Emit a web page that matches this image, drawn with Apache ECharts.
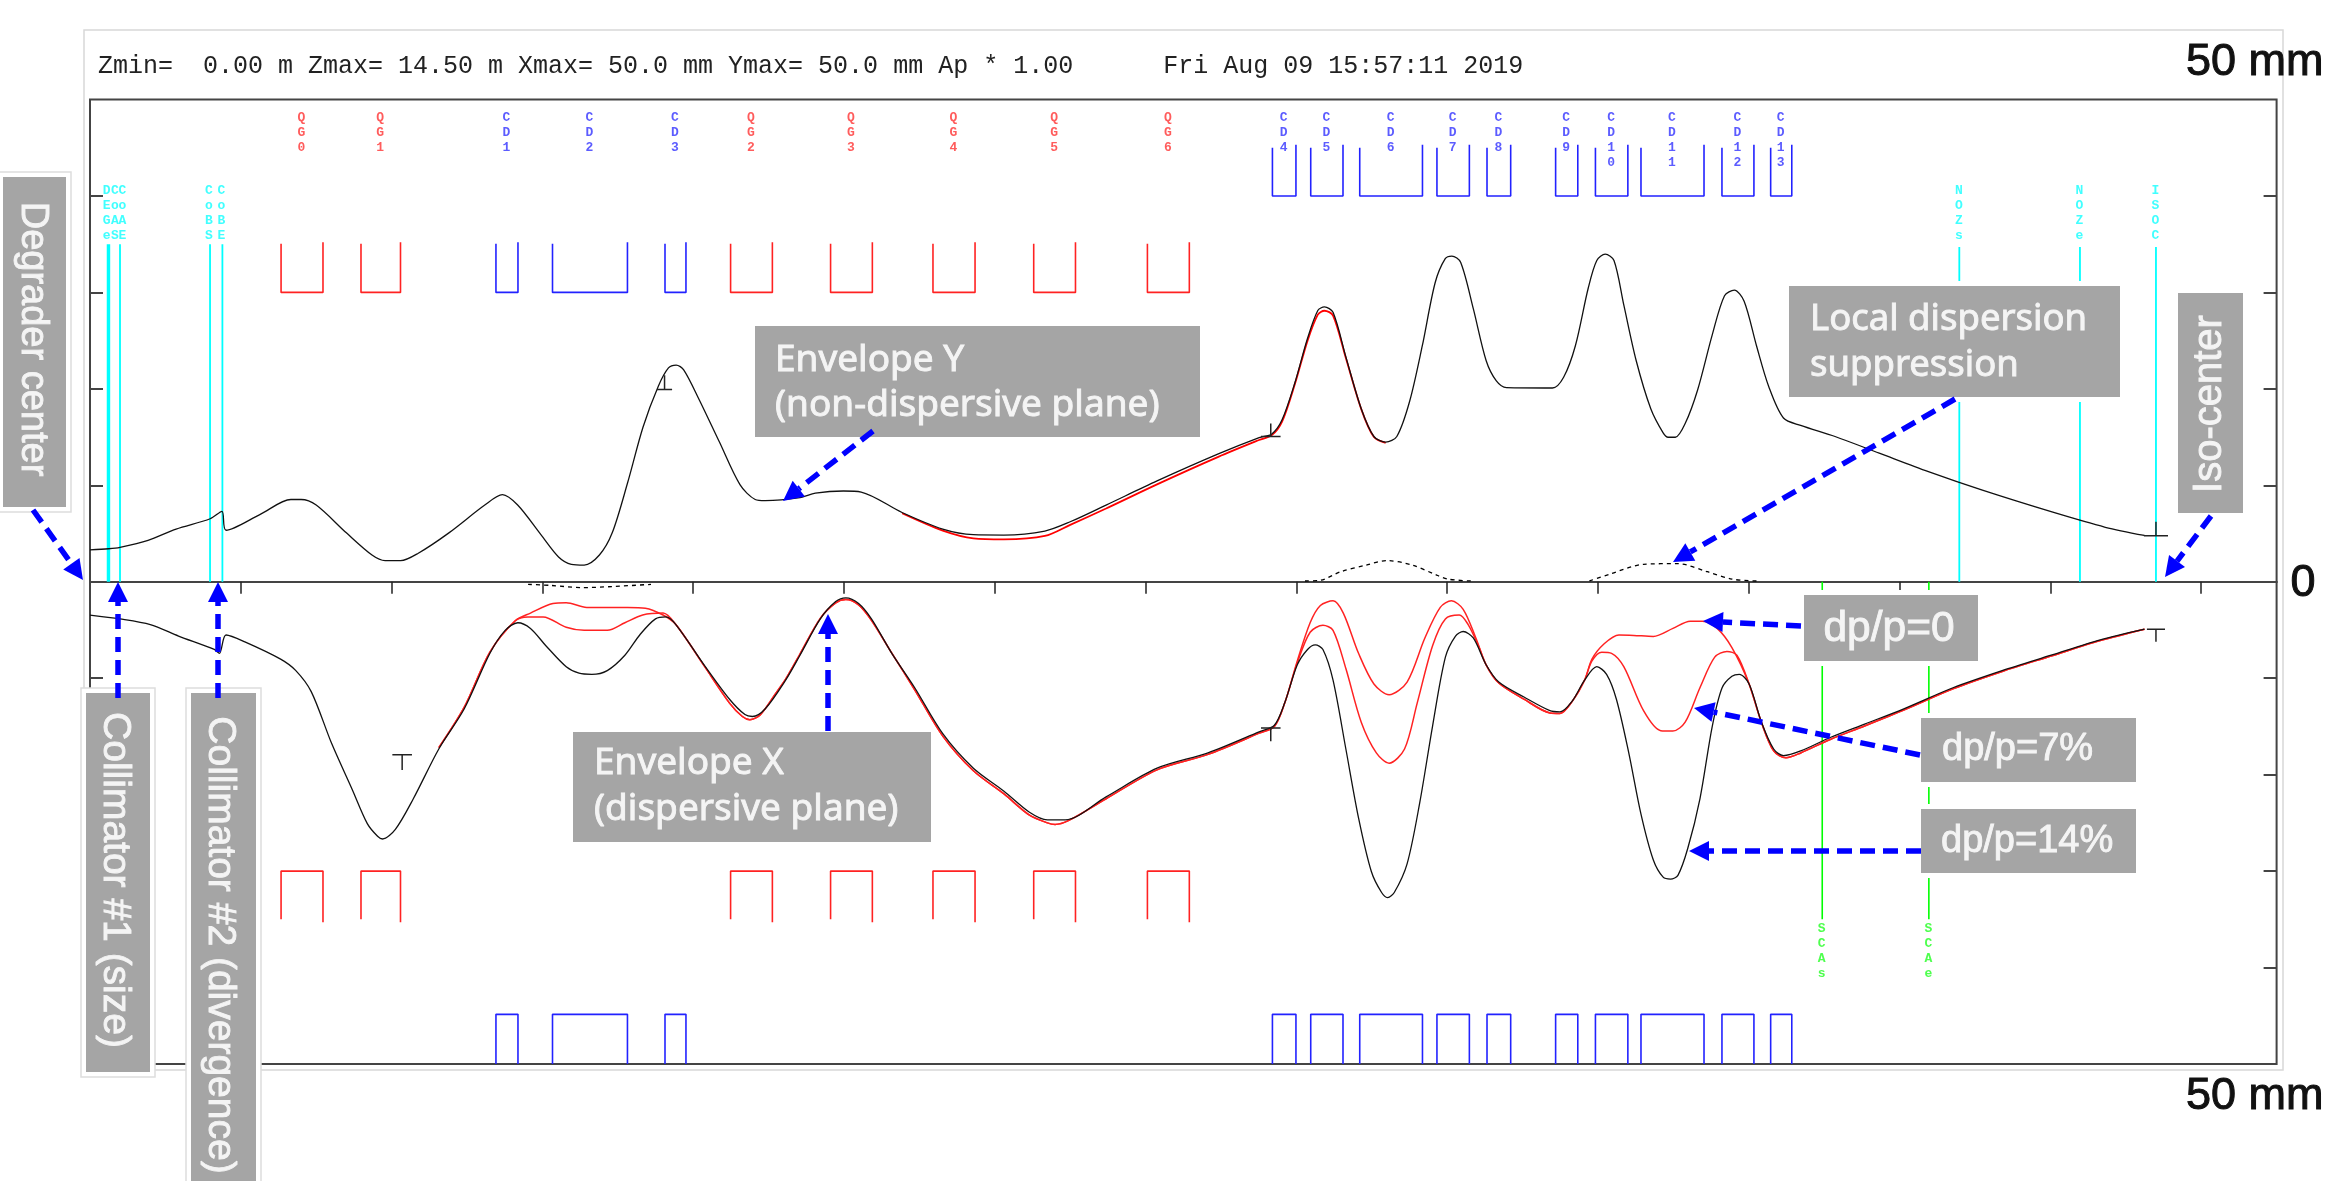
<!DOCTYPE html>
<html>
<head>
<meta charset="utf-8">
<title>Beam envelope</title>
<script src="https://cdn.jsdelivr.net/npm/echarts@6/dist/echarts.min.js"></script>
<style>
html, body { margin: 0; padding: 0; background: #fff; }
#chart { width: 2330px; height: 1181px; }
</style>
</head>
<body>
<div id="chart"></div>
<script>
// header line of the plot
var headerText = 'Zmin=  0.00 m Zmax= 14.50 m Xmax= 50.0 mm Ymax= 50.0 mm Ap * 1.00      Fri Aug 09 15:57:11 2019';

// axis ticks
var zTicks = [1, 2, 3, 4, 5, 6, 7, 8, 9, 10, 11, 12, 13, 14];
var mmTicks = [-40, -30, -20, -10, 10, 20, 30, 40];

// magnets: name, start z, end z (m)
var qgNames = ['QG0', 'QG1', 'QG2', 'QG3', 'QG4', 'QG5', 'QG6'];
var qgStart = [1.267, 1.797, 4.248, 4.911, 5.590, 6.258, 7.012];
var qgEnd = [1.545, 2.059, 4.525, 5.188, 5.869, 6.535, 7.290];
var cdNames = ['CD1', 'CD2', 'CD3', 'CD4', 'CD5', 'CD6', 'CD7', 'CD8', 'CD9', 'CD10', 'CD11', 'CD12', 'CD13'];
var cdStart = [2.692, 3.067, 3.813, 7.841, 8.095, 8.420, 8.932, 9.264, 9.719, 9.983, 10.285, 10.822, 11.145];
var cdEnd = [2.838, 3.564, 3.952, 7.997, 8.309, 8.836, 9.147, 9.421, 9.866, 10.198, 10.703, 11.034, 11.285];

// vertical markers
var cyanNames = ['DEGe', 'CoAS', 'CoAE', 'CoBS', 'CoBE', 'NOZs', 'NOZe', 'ISOC'];
var cyanZ = [0.117, 0.128, 0.199, 0.796, 0.878, 12.396, 13.196, 13.70];
var cyanLabelZ = [0.113, 0.169, 0.219, 0.792, 0.875, 12.396, 13.196, 13.70];
var cyanTop = [35, 35, 35, 35, 35, 34.7, 34.7, 34.7];
var greenNames = ['SCAs', 'SCAe'];
var greenZ = [11.487, 12.194];

// envelope Y, upper half (mm)
var envY = [[0, 3.3], [0.124, 3.42], [0.199, 3.57], [0.385, 4.3], [0.571, 5.46], [0.797, 6.53], [0.875, 7.3], [0.902, 5.34], [1.129, 6.99], [1.332, 8.53], [1.4, 8.53], [1.5, 7.95], [1.7, 5.07], [1.87, 2.77], [1.957, 2.19], [2.06, 2.19], [2.177, 2.96], [2.38, 5.07], [2.618, 7.95], [2.735, 9.03], [2.836, 7.95], [2.99, 4.88], [3.107, 2.57], [3.192, 1.81], [3.277, 1.73], [3.378, 2.77], [3.463, 5.07], [3.565, 10.26], [3.667, 16.02], [3.768, 20.25], [3.836, 22.17], [3.887, 22.47], [3.937, 21.97], [4.039, 18.9], [4.174, 14.48], [4.31, 10.07], [4.411, 8.53], [4.478, 8.41], [4.708, 8.72], [4.81, 9.18], [4.996, 9.41], [5.114, 9.3], [5.385, 7.18], [5.655, 5.46], [5.858, 4.88], [6.06, 4.84], [6.332, 5.26], [6.5, 6.22], [6.738, 7.95], [7.076, 10.45], [7.482, 13.25], [7.753, 14.94], [7.837, 15.33], [7.905, 16.79], [7.99, 20.63], [8.074, 25.24], [8.142, 28.12], [8.186, 28.5], [8.243, 27.93], [8.328, 23.32], [8.43, 17.94], [8.514, 15.06], [8.592, 14.48], [8.666, 15.06], [8.751, 18.71], [8.835, 24.47], [8.92, 31.0], [8.987, 33.5], [9.031, 33.77], [9.089, 33.12], [9.173, 28.31], [9.258, 22.94], [9.326, 20.82], [9.393, 20.13], [9.698, 20.09], [9.772, 21.2], [9.85, 24.47], [9.935, 30.43], [9.992, 33.31], [10.048, 33.96], [10.106, 33.31], [10.171, 28.7], [10.253, 22.94], [10.35, 17.94], [10.432, 15.44], [10.465, 14.98], [10.513, 14.98], [10.578, 16.4], [10.66, 19.86], [10.758, 25.62], [10.839, 29.66], [10.904, 30.23], [10.969, 29.08], [11.051, 24.47], [11.132, 20.25], [11.23, 16.98], [11.344, 16.21], [11.572, 15.06], [11.865, 13.33], [12.191, 11.41], [12.549, 9.49], [13.005, 7.26], [13.364, 5.65], [13.624, 4.8]];
var envYRed = [[5.385, 7.1], [5.655, 5.3], [5.858, 4.5], [6.06, 4.4], [6.332, 4.75], [6.5, 5.9], [6.738, 7.6], [7.076, 10.1], [7.482, 12.95], [7.753, 14.7], [7.837, 15.2], [7.905, 16.6], [7.99, 20.5], [8.074, 25.0], [8.142, 27.7], [8.186, 28.1], [8.243, 27.6], [8.328, 23.2], [8.43, 17.9], [8.514, 15.0], [8.592, 14.4]];

// envelope X, lower half (mm), dp/p=14%
var envX14 = [[0, -3.45], [0.199, -3.85], [0.4, -4.44], [0.587, -5.63], [0.824, -7.02], [0.858, -7.42], [0.902, -5.52], [1.027, -6.23], [1.264, -8.02], [1.365, -9.21], [1.467, -11.39], [1.602, -16.75], [1.738, -21.51], [1.839, -25.08], [1.907, -26.39], [1.94, -26.67], [2.025, -25.67], [2.144, -22.5], [2.313, -17.34], [2.482, -13.17], [2.652, -7.42], [2.753, -5.04], [2.837, -4.25], [2.921, -4.84], [3.023, -6.63], [3.158, -8.81], [3.243, -9.48], [3.328, -9.6], [3.43, -9.21], [3.547, -7.62], [3.649, -5.44], [3.75, -3.85], [3.818, -3.65], [3.885, -4.44], [4.072, -8.61], [4.241, -12.18], [4.343, -13.77], [4.393, -13.97], [4.478, -13.17], [4.613, -10.2], [4.708, -7.62], [4.843, -3.85], [4.945, -2.06], [5.012, -1.67], [5.097, -2.26], [5.182, -3.85], [5.317, -7.42], [5.469, -10.99], [5.655, -15.75], [5.858, -19.33], [6.061, -21.71], [6.23, -23.89], [6.349, -24.68], [6.467, -24.68], [6.738, -22.3], [7.076, -19.33], [7.414, -17.74], [7.753, -15.56], [7.854, -14.88], [7.922, -12.58], [8.006, -8.61], [8.074, -7.02], [8.125, -6.55], [8.176, -7.02], [8.243, -10.2], [8.328, -17.34], [8.412, -24.48], [8.497, -30.04], [8.565, -32.22], [8.605, -32.74], [8.649, -32.22], [8.734, -29.25], [8.818, -22.9], [8.903, -14.96], [8.988, -7.82], [9.055, -5.63], [9.106, -5.16], [9.173, -5.83], [9.258, -8.61], [9.342, -10.4], [9.512, -11.98], [9.681, -13.37], [9.748, -13.49], [9.829, -12.38], [9.911, -10.2], [9.992, -8.81], [10.057, -9.6], [10.122, -12.18], [10.204, -17.74], [10.285, -24.09], [10.367, -28.85], [10.432, -30.63], [10.481, -30.83], [10.53, -30.44], [10.595, -27.66], [10.676, -22.5], [10.758, -14.96], [10.823, -10.99], [10.888, -9.8], [10.937, -9.6], [11.002, -10.6], [11.084, -14.56], [11.165, -17.34], [11.23, -18.02], [11.344, -17.54], [11.54, -16.15], [11.768, -14.76], [12.028, -13.17], [12.354, -10.99], [12.68, -9.21], [13.005, -7.62], [13.331, -6.03], [13.624, -4.92]];

// red envelopes: parts shared by dp/p=0 and 7%
var redStart = [[2.313, -17.2], [2.482, -13.0], [2.652, -7.3]];
var redMidA = [[3.885, -4.44], [4.072, -8.7], [4.241, -12.58], [4.326, -13.97], [4.376, -14.3], [4.444, -13.8], [4.546, -11.6], [4.613, -10.1], [4.708, -7.5], [4.843, -3.8], [4.945, -2.2], [5.012, -1.85], [5.097, -2.4], [5.182, -4.0], [5.317, -7.4], [5.469, -11.2], [5.655, -16.0], [5.858, -19.6], [6.061, -22.0], [6.23, -24.2], [6.349, -25.0], [6.4, -25.16], [6.484, -24.8], [6.738, -22.5], [7.076, -19.5], [7.414, -17.9], [7.753, -15.7], [7.854, -15.0], [7.922, -12.6]];
var redMidB = [[9.258, -8.61], [9.342, -10.5], [9.512, -12.2], [9.681, -13.6], [9.748, -13.65], [9.829, -12.4], [9.911, -10.2]];
var redEnd = [[11.002, -10.6], [11.084, -14.6], [11.165, -17.54], [11.246, -18.25], [11.344, -17.75], [11.54, -16.35], [11.768, -14.95], [12.028, -13.3], [12.354, -11.1], [12.68, -9.3], [13.005, -7.7], [13.331, -6.1], [13.624, -4.92]];
// red bumps
var dp0Bump1 = [[2.82, -4.05], [2.921, -3.25], [3.07, -2.26], [3.158, -2.18], [3.294, -2.66], [3.565, -2.66], [3.683, -2.74], [3.8, -3.45]];
var dp7Bump1 = [[2.82, -4.05], [2.904, -3.65], [3.005, -3.65], [3.158, -4.72], [3.277, -5.04], [3.43, -5.04], [3.547, -4.25], [3.665, -3.45], [3.8, -3.25]];
var dp0Bump2 = [[8.006, -8.21], [8.091, -4.25], [8.159, -2.46], [8.243, -1.98], [8.311, -3.25], [8.412, -7.42], [8.514, -10.6], [8.615, -11.71], [8.734, -10.4], [8.852, -5.83], [8.954, -2.66], [9.028, -1.98], [9.106, -2.86], [9.19, -5.83]];
var dp7Bump2 = [[8.006, -8.41], [8.091, -5.24], [8.176, -4.52], [8.243, -5.04], [8.328, -9.0], [8.43, -14.56], [8.53, -17.74], [8.615, -18.81], [8.717, -17.34], [8.801, -12.58], [8.903, -6.63], [8.988, -3.85], [9.08, -3.45], [9.139, -4.44], [9.207, -6.63]];
var dp0Bump3 = [[9.96, -8.02], [10.041, -6.43], [10.139, -5.52], [10.237, -5.56], [10.367, -5.67], [10.497, -4.84], [10.611, -4.09], [10.693, -4.09], [10.79, -4.84], [10.888, -6.83]];
var dp7Bump3 = [[9.96, -8.21], [10.025, -7.3], [10.09, -7.42], [10.171, -8.81], [10.302, -13.37], [10.416, -15.44], [10.497, -15.48], [10.578, -14.56], [10.676, -10.99], [10.774, -7.82], [10.855, -7.22], [10.921, -7.62]];

// dashed dispersion curves
var dispA = [[2.905, -0.27], [3.057, -0.38], [3.26, -0.61], [3.46, -0.5], [3.72, -0.27]];
var dispB = [[8.057, 0.08], [8.158, 0.15], [8.294, 1.04], [8.463, 1.73], [8.6, 2.19], [8.767, 1.73], [8.937, 0.65], [9.004, 0.27], [9.157, 0.08]];
var dispC = [[9.943, 0.08], [10.074, 0.77], [10.302, 1.81], [10.53, 1.88], [10.725, 1.04], [10.888, 0.27], [11.051, 0.08]];

// small scale marks on the envelopes: centre z, level, stem end, half width
var markZ = [3.81, 7.83, 13.70, 2.07, 7.83, 13.70];
var markLevel = [19.94, 15.06, 4.76, -17.94, -15.16, -4.92];
var markStem = [21.4, 16.4, 6.22, -19.52, -16.55, -6.23];
var markHalf = [0.05, 0.065, 0.08, 0.065, 0.065, 0.06];

var GAP = ['-', '-'];

// U shaped magnet outline, open on the far side
function magnetPath(starts, ends, base, farLeft, farRight) {
    var out = [];
    starts.forEach(function (s, i) {
        out.push([s, farLeft], [s, base], [ends[i], base], [ends[i], farRight], GAP);
    });
    return out;
}

function stacked(name) {
    return name.split('').join('\n');
}

function textSeries(items, color) {
    return {
        type: 'scatter',
        symbolSize: 1,
        itemStyle: { color: 'transparent' },
        silent: true,
        z: 4,
        data: items.map(function (it) {
            return { value: [it[0], it[1]], label: { formatter: stacked(it[2]) } };
        }),
        label: {
            show: true,
            position: [0, 0],
            align: 'center',
            verticalAlign: 'top',
            color: color,
            fontFamily: 'Liberation Mono',
            fontWeight: 'bold',
            fontSize: 13,
            lineHeight: 15
        }
    };
}

function lineSeries(data, color, width, extra) {
    var s = {
        type: 'line',
        data: data,
        showSymbol: false,
        silent: true,
        connectNulls: false,
        lineStyle: { color: color, width: width },
        z: 3
    };
    for (var k in extra) { s[k] = extra[k]; }
    return s;
}

function vertical(zs, tops, bottom) {
    var out = [];
    zs.forEach(function (z, i) {
        out.push([z, tops[i]], [z, bottom], GAP);
    });
    return out;
}

var marks = [];
markZ.forEach(function (z, i) {
    marks.push([z - markHalf[i], markLevel[i]], [z + markHalf[i], markLevel[i]], GAP, [z, markLevel[i]], [z, markStem[i]], GAP);
});

var curve = { smooth: 0.3 };
var dashed = { smooth: 0.3, lineStyle: { color: '#000', width: 1.3, type: [4, 4] } };
var dp0 = [].concat(redStart, dp0Bump1, redMidA, dp0Bump2, redMidB, dp0Bump3, redEnd);
var dp7 = [].concat(redStart, dp7Bump1, redMidA, dp7Bump2, redMidB, dp7Bump3, redEnd);

var qgLabels = qgNames.map(function (n, i) { return [(qgStart[i] + qgEnd[i]) / 2, 48.8, n]; });
var cdLabels = cdNames.map(function (n, i) { return [(cdStart[i] + cdEnd[i]) / 2, 48.8, n]; });
var cyanLabels = cyanNames.map(function (n, i) { return [cyanLabelZ[i], 41.3, n]; });
var greenLabels = greenNames.map(function (n, i) { return [greenZ[i], -35.3, n]; });

var series = [
    lineSeries(magnetPath(qgStart, qgEnd, 30, 35.04, 35.2), '#f22', 1.6),
    lineSeries(magnetPath(cdStart.slice(0, 3), cdEnd.slice(0, 3), 30, 35.04, 35.2), '#22f', 1.6),
    lineSeries(magnetPath(cdStart.slice(3), cdEnd.slice(3), 40, 45, 45.3), '#22f', 1.6),
    lineSeries(magnetPath(qgStart, qgEnd, -30, -35, -35.3), '#f22', 1.6),
    lineSeries(magnetPath(cdStart, cdEnd, -44.85, -50, -50), '#22f', 1.6),
    lineSeries(vertical(cyanZ, cyanTop, 0), '#0ff', 1.8),
    lineSeries(vertical(greenZ, [-35, -35], 0), '#0f0', 1.6),
    lineSeries(envYRed, '#f00', 1.8, curve),
    lineSeries(dp0, '#f22', 1.5, curve),
    lineSeries(dp7, '#f22', 1.5, curve),
    lineSeries(envY, '#111', 1.3, curve),
    lineSeries(envX14, '#111', 1.3, curve),
    lineSeries(dispA, '#000', 1.3, dashed),
    lineSeries(dispB, '#000', 1.3, dashed),
    lineSeries(dispC, '#000', 1.3, dashed),
    lineSeries(marks, '#222', 1.5),
    textSeries(qgLabels, '#f33'),
    textSeries(cdLabels, '#33f'),
    textSeries(cyanLabels, '#1ff'),
    textSeries(greenLabels, '#2f2')
];

// annotation overlay, page pixels
var BOX_FILL = '#a5a5a5';
var TEXT_FILL = '#f4f4f4';
var boxFont = '"Noto Sans"';
var sideFont = '"Liberation Sans"';
var overlay = [];

function addBox(x0, y0, x1, y1, edge) {
    overlay.push({
        type: 'rect', z: 50,
        shape: { x: x0 - 5, y: y0 - 5, width: x1 - x0 + 10, height: y1 - y0 + 10 },
        style: { fill: '#fff', stroke: edge || null, lineWidth: 1.5 }
    });
    overlay.push({
        type: 'rect', z: 51,
        shape: { x: x0, y: y0, width: x1 - x0, height: y1 - y0 },
        style: { fill: BOX_FILL }
    });
}

function addText(str, x, y, font, opts) {
    opts = opts || {};
    var fill = opts.fill || TEXT_FILL;
    overlay.push({
        type: 'text', z: 52, x: x, y: y, rotation: opts.rotation || 0,
        style: {
            text: str, font: font, fill: fill, stroke: fill, lineWidth: opts.heavy === undefined ? 0.9 : opts.heavy,
            align: opts.align || 'left', verticalAlign: 'middle',
            textAlign: opts.align || 'left', textVerticalAlign: 'middle'
        }
    });
}

function addArrow(x0, y0, x1, y1) {
    var len = Math.sqrt((x1 - x0) * (x1 - x0) + (y1 - y0) * (y1 - y0));
    var ux = (x1 - x0) / len, uy = (y1 - y0) / len;
    var bx = x1 - ux * 20, by = y1 - uy * 20;
    overlay.push({
        type: 'line', z: 53,
        shape: { x1: x0, y1: y0, x2: bx, y2: by },
        style: { stroke: '#00f', lineWidth: 5.5, lineDash: [15, 8] }
    });
    overlay.push({
        type: 'polygon', z: 53,
        shape: { points: [[x1, y1], [bx - uy * 10, by + ux * 10], [bx + uy * 10, by - ux * 10]] },
        style: { fill: '#00f' }
    });
}

overlay.push({
    type: 'rect', z: 1,
    shape: { x: 84, y: 30, width: 2199, height: 1040 },
    style: { fill: 'none', stroke: '#d8d8d8', lineWidth: 1.5 }
});

addBox(3, 177, 66, 507, '#ddd');
addText('Degrader center', 32, 339, '38px ' + sideFont, { rotation: -Math.PI / 2, align: 'center' });
addBox(86, 693, 150, 1072, '#ddd');
addText('Collimator #1 (size)', 115, 880, '39px ' + sideFont, { rotation: -Math.PI / 2, align: 'center' });
addBox(191, 693, 256, 1190, '#ddd');
addText('Collimator #2 (divergence)', 220, 945, '39px ' + sideFont, { rotation: -Math.PI / 2, align: 'center' });
addBox(2178, 293, 2243, 513);
addText('Iso-center', 2210, 404, '40px ' + sideFont, { rotation: Math.PI / 2, align: 'center' });

addBox(755, 326, 1200, 437);
addText('Envelope Y', 775, 360, '37px ' + boxFont);
addText('(non-dispersive plane)', 775, 405, '37px ' + boxFont);
addBox(573, 732, 931, 842);
addText('Envelope X', 594, 763, '37px ' + boxFont);
addText('(dispersive plane)', 594, 809, '37px ' + boxFont);
addBox(1789, 286, 2120, 397);
addText('Local dispersion', 1810, 320, '36.5px ' + boxFont);
addText('suppression', 1810, 366, '36.5px ' + boxFont);
addBox(1804, 595, 1978, 661);
addText('dp/p=0', 1889, 629, '42.5px ' + sideFont, { align: 'center' });
addBox(1921, 718, 2136, 782);
addText('dp/p=7%', 1942, 750, '38px ' + sideFont);
addBox(1921, 809, 2136, 873);
addText('dp/p=14%', 1941, 842, '38px ' + sideFont);

addArrow(33, 510, 83, 580);
addArrow(118, 698, 118, 582);
addArrow(218, 698, 218, 582);
addArrow(873, 431, 783, 501);
addArrow(828, 731, 828, 614);
addArrow(1955, 399, 1673, 562);
addArrow(2211, 516, 2165, 577);
addArrow(1801, 626, 1703, 621);
addArrow(1920, 755, 1694, 708);
addArrow(1921, 851, 1689, 851);

addText('50 mm', 2186, 63, '45px ' + sideFont, { fill: '#111', heavy: 1 });
addText('50 mm', 2186, 1097, '45px ' + sideFont, { fill: '#111', heavy: 1 });
addText('0', 2303, 584, '45px ' + sideFont, { fill: '#111', align: 'center', heavy: 1 });

var chart = echarts.init(document.getElementById('chart'), null, { renderer: 'canvas' });
var axisColor = '#444';
chart.setOption({
    animation: false,
    backgroundColor: '#fff',
    title: {
        text: headerText,
        left: 98,
        top: 54,
        padding: 0,
        textStyle: { fontFamily: 'Liberation Mono', fontSize: 25, fontWeight: 'normal', color: '#222' }
    },
    grid: {
        left: 90,
        right: 53.4,
        top: 99.5,
        bottom: 117,
        show: true,
        backgroundColor: 'transparent',
        borderColor: axisColor,
        borderWidth: 2
    },
    xAxis: [{
        type: 'value',
        min: 0,
        max: 14.5,
        interval: 1,
        splitLine: { show: false },
        axisLabel: { show: false },
        axisLine: { onZero: true, lineStyle: { color: axisColor, width: 2 } },
        axisTick: { length: 12, customValues: zTicks, lineStyle: { color: '#222', width: 1.5 } }
    }, {
        type: 'value',
        min: 0,
        max: 14.5,
        interval: 1,
        splitLine: { show: false },
        axisLabel: { show: false },
        axisLine: { onZero: true, lineStyle: { color: axisColor, width: 2 } },
        axisTick: { inside: true, length: 11, customValues: zTicks, lineStyle: { color: '#222', width: 1.5 } }
    }],
    yAxis: [{
        type: 'value',
        min: -50,
        max: 50,
        interval: 10,
        splitLine: { show: false },
        axisLabel: { show: false },
        axisLine: { show: false, onZero: false },
        axisTick: { inside: true, length: 13, customValues: mmTicks, lineStyle: { color: axisColor, width: 2 } }
    }, {
        type: 'value',
        position: 'right',
        min: -50,
        max: 50,
        interval: 10,
        splitLine: { show: false },
        axisLabel: { show: false },
        axisLine: { show: false, onZero: false },
        axisTick: { inside: true, length: 13, customValues: mmTicks, lineStyle: { color: axisColor, width: 2 } }
    }],
    series: series,
    graphic: overlay
});
</script>
</body>
</html>
